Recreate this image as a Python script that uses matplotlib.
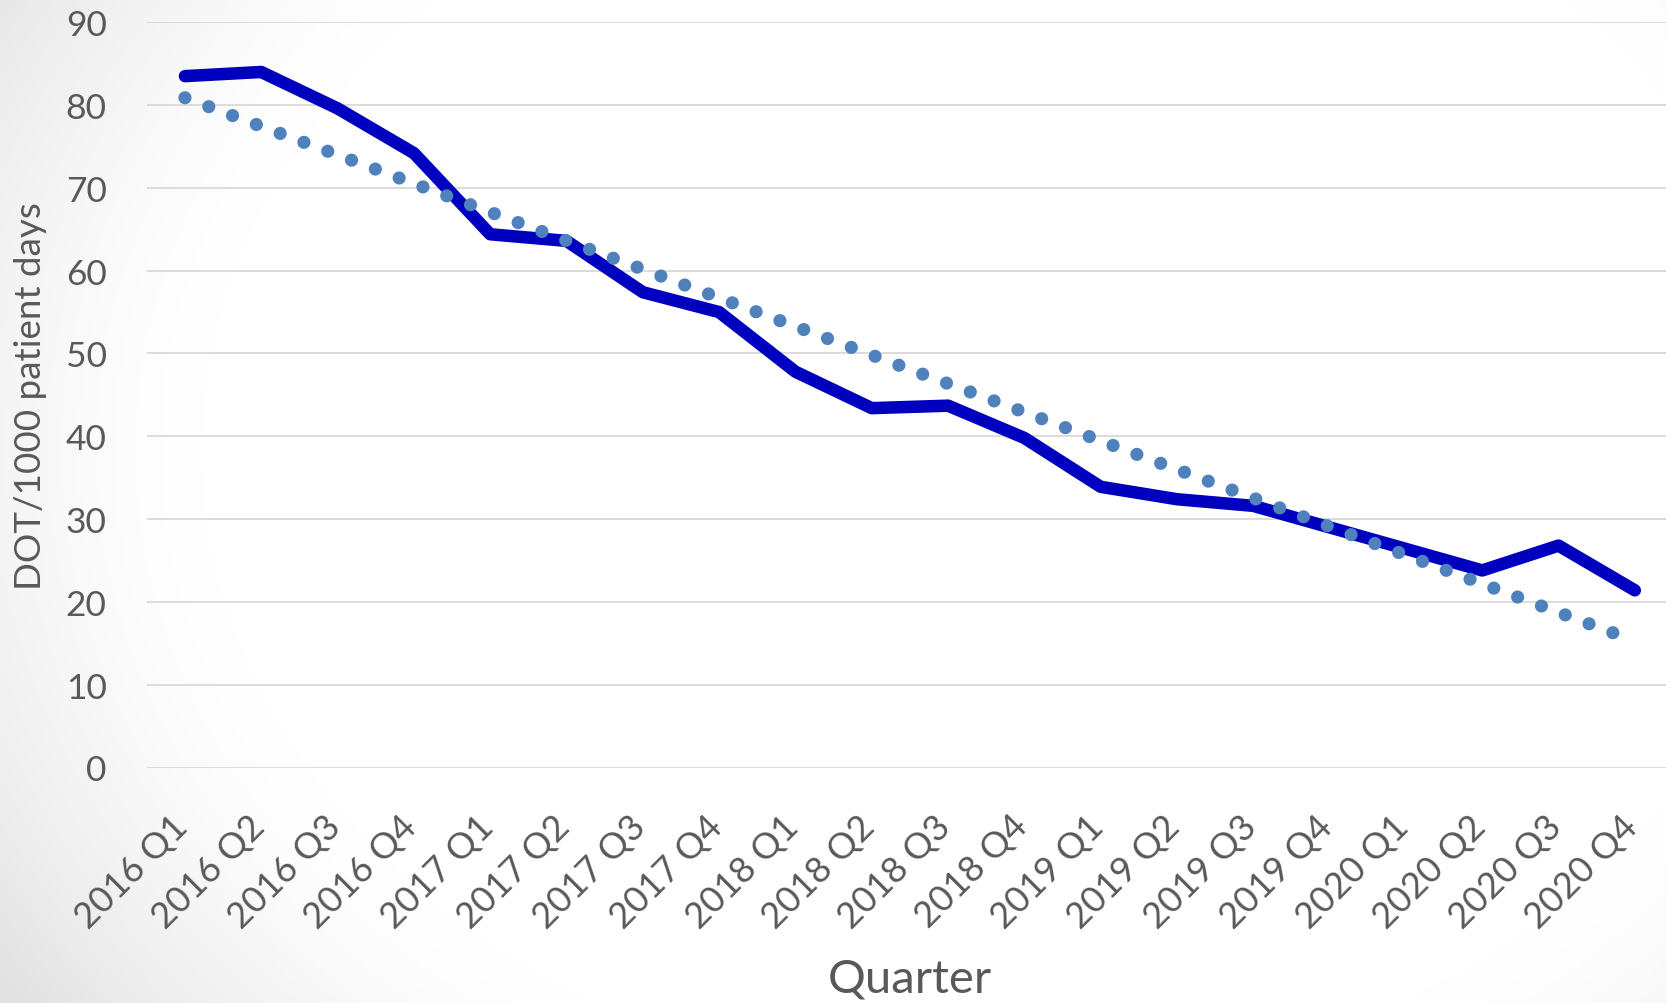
import numpy as np
import matplotlib
matplotlib.use("Agg")
import matplotlib.pyplot as plt
from matplotlib import transforms

# ---- data ----
quarters = ["2016 Q1", "2016 Q2", "2016 Q3", "2016 Q4",
            "2017 Q1", "2017 Q2", "2017 Q3", "2017 Q4",
            "2018 Q1", "2018 Q2", "2018 Q3", "2018 Q4",
            "2019 Q1", "2019 Q2", "2019 Q3", "2019 Q4",
            "2020 Q1", "2020 Q2", "2020 Q3", "2020 Q4"]
dot_values = [83.5, 84.0, 79.6, 74.2, 64.4, 63.6, 57.4, 55.0, 47.8, 43.4,
              43.7, 39.8, 33.9, 32.4, 31.6, 29.0, 26.4, 23.8, 26.8, 21.4]
y_ticks = [0, 10, 20, 30, 40, 50, 60, 70, 80, 90]

TEXT = "#595959"
plt.rcParams['font.family'] = ['Lato', 'DejaVu Sans']

W, H = 1666, 1004
fig = plt.figure(figsize=(W / 100, H / 100), dpi=100)
fig.patch.set_facecolor("white")

# background vignette
bg = fig.add_axes([0, 0, 1, 1], zorder=-10)
yy, xx = np.mgrid[0:1:300j, 0:1:500j]
r = np.sqrt(((xx - 0.6) / 0.6) ** 2 + ((yy - 0.45) / 0.8) ** 2)
g = 255 - 40 * np.clip((r - 0.8) / 0.5, 0, 1) ** 1.5
img = np.dstack([g, g, g]).astype(np.uint8)
bg.imshow(img, extent=[0, 1, 0, 1], aspect='auto', origin='upper', interpolation='bilinear')
bg.axis('off')

# main axes (pixel geometry)
ax_l, ax_r, ax_t, ax_b = 146.8, 1673.0, 23.3, 768.5
ax = fig.add_axes([ax_l / W, 1 - ax_b / H, (ax_r - ax_l) / W, (ax_b - ax_t) / H])
ax.patch.set_alpha(0)

x = np.arange(len(quarters))
y = np.array(dot_values)

solid_lw = 9.0          # points
ax.plot(x, y, color="#0000BF", lw=solid_lw, solid_capstyle='round',
        solid_joinstyle='round', zorder=3)

# linear trendline (round dots)
coef = np.polyfit(x, y, 1)
trend = np.polyval(coef, x)
dot_lw = 9.5            # points
period_px = 25.4
gap = period_px / (dot_lw * 100 / 72)
ax.plot(x, trend, color="#4F81BD", lw=dot_lw, linestyle=(0, (0.001, gap)),
        dash_capstyle='round', zorder=4)

ax.set_xlim(-0.5, len(quarters) - 0.5)
ax.set_ylim(0, 90)
ax.set_yticks(y_ticks)
ax.yaxis.grid(True, color="#D9D9D9", lw=1.3)
ax.set_axisbelow(True)
for s in ax.spines.values():
    s.set_visible(False)

ax.tick_params(axis='y', length=0, pad=29, labelsize=25.5, labelcolor=TEXT)
ax.tick_params(axis='x', length=0, pad=43.5, labelsize=26, labelcolor=TEXT)
ax.set_xticks(x)
ax.set_xticklabels(quarters, rotation=45, ha='right', va='baseline',
                   rotation_mode='anchor')
off = transforms.ScaledTranslation(0.05, 0, fig.dpi_scale_trans)
for lab in ax.get_xticklabels():
    lab.set_transform(lab.get_transform() + off)

fig.text(14 / W, 1 - ((ax_t + ax_b) / 2) / H, "DOT/1000 patient days",
         rotation=90, ha='left', va='center', fontsize=26.5, color=TEXT)
fig.text(((ax_l + ax_r) / 2) / W, 11 / H, "Quarter", ha='center',
         va='baseline', fontsize=34, color=TEXT)

fig.savefig("out.png", dpi=100)
